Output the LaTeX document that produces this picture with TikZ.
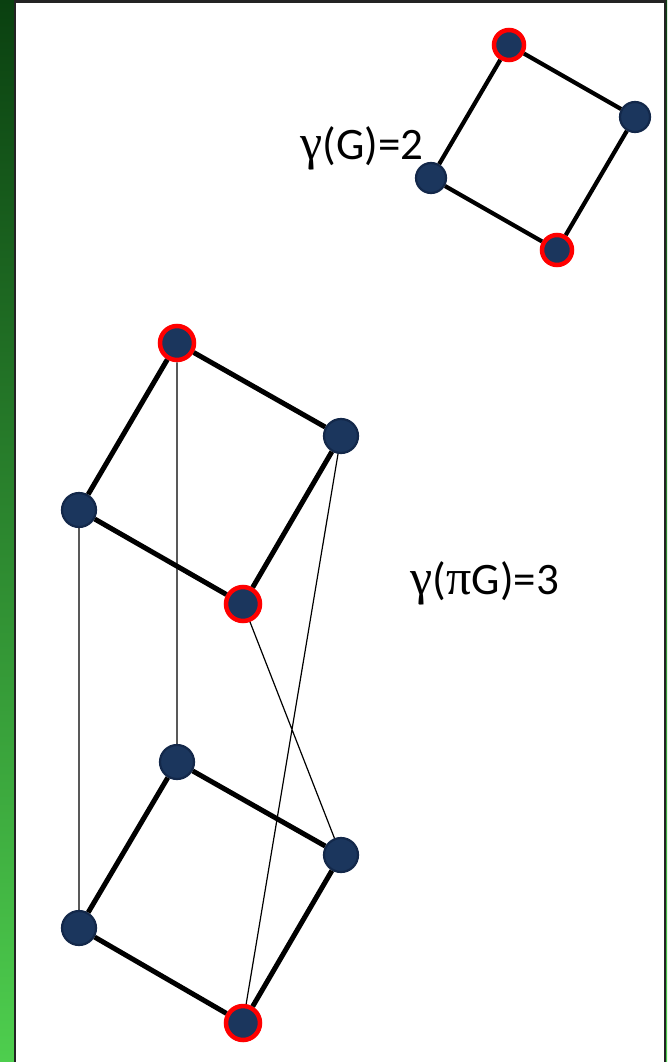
\documentclass[tikz,border=0pt]{standalone}
\usepackage{fontspec}
\setmainfont{Carlito}
\newfontfamily\grk{Liberation Serif}
\definecolor{nodefill}{HTML}{1B365D}
\definecolor{nodeedge}{HTML}{13284A}
\definecolor{dkgreen}{RGB}{10,64,16}
\definecolor{ltgreen}{RGB}{78,206,78}
\definecolor{frame}{HTML}{232323}
\tikzset{
  vtx/.style={circle,fill=nodefill,draw=nodeedge,line width=2.2pt,inner sep=0pt,minimum size=#1},
  vtx/.default=34pt,
  dom/.style={circle,fill=nodefill,draw=red,line width=4.5pt,inner sep=0pt,minimum size=#1},
  dom/.default=34pt,
  thick edge/.style={line width=5pt},
  thin edge/.style={line width=1.2pt},
  lbl/.style={font=\fontsize{45}{52}\selectfont,inner sep=0pt}
}
\begin{document}
\begin{tikzpicture}[x=1pt,y=-1pt]
\useasboundingbox (0,0) rectangle (667,1062);
\shade[top color=dkgreen,bottom color=ltgreen] (0,0) rectangle (667,1062);
\fill[white] (15,2) rectangle (665,1064);
\draw[frame,line width=2.2pt] (15,1070) -- (15,1.5) -- (665,1.5) -- (665,1070);
% top graph
\node[dom=30pt] (a) at (509,45) {};
\node[vtx=30pt] (b) at (635,117) {};
\node[vtx=30pt] (c) at (431,178) {};
\node[dom=30pt] (d) at (557,250) {};
\draw[line width=4.2pt] (a) -- (b) (b) -- (d) (d) -- (c) (c) -- (a);
\node[lbl] (g1) at (362,148) {{\grk\fontsize{50}{52}\selectfont γ}(G)=2};
% bottom graph, upper copy
\node[dom] (u1) at (177,343) {};
\node[vtx] (u2) at (341,436) {};
\node[vtx] (u3) at (79,510) {};
\node[dom] (u4) at (243,604) {};
% lower copy
\node[vtx] (l1) at (177,762) {};
\node[vtx] (l2) at (341,855) {};
\node[vtx] (l3) at (79,928) {};
\node[dom] (l4) at (243,1023) {};
\draw[thick edge] (u1) -- (u2) (u2) -- (u4) (u4) -- (u3) (u3) -- (u1);
\draw[thick edge] (l1) -- (l2) (l2) -- (l4) (l4) -- (l3) (l3) -- (l1);
\draw[thin edge] (u1) -- (l1) (u3) -- (l3) (u2) -- (l4) (u4) -- (l2);
\node[lbl] (g2) at (485,583) {{\grk\fontsize{50}{52}\selectfont γ}({\grk\fontsize{50}{52}\selectfont π}G)=3};
\end{tikzpicture}
\end{document}
